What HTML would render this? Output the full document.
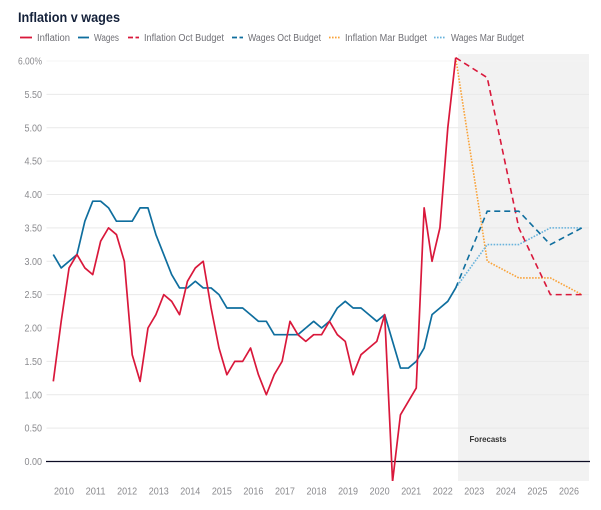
<!DOCTYPE html>
<html>
<head>
<meta charset="utf-8">
<title>Inflation v wages</title>
<style>
html,body{margin:0;padding:0;background:#fff;width:601px;height:510px;overflow:hidden}
svg{display:block;font-family:"Liberation Sans",sans-serif}
</style>
</head>
<body>
<svg id="chart" width="601" height="510" viewBox="0 0 601 510" xmlns="http://www.w3.org/2000/svg">
  <text x="18" y="22" font-size="14" font-weight="bold" fill="#14213a" textLength="102" lengthAdjust="spacingAndGlyphs">Inflation v wages</text>
  <g font-size="10" fill="#6f6f75">
    <g>
      <line x1="20" x2="32" y1="37.5" y2="37.5" stroke="#d9183b" stroke-width="1.8"/>
      <text x="37" y="41" textLength="33" lengthAdjust="spacingAndGlyphs">Inflation</text>
    </g>
    <g>
      <line x1="78" x2="89" y1="37.5" y2="37.5" stroke="#0f6e9e" stroke-width="1.8"/>
      <text x="94" y="41" textLength="25" lengthAdjust="spacingAndGlyphs">Wages</text>
    </g>
    <g>
      <line x1="128" x2="139" y1="37.5" y2="37.5" stroke="#d9183b" stroke-width="1.8" stroke-dasharray="5 2.5"/>
      <text x="144" y="41" textLength="80" lengthAdjust="spacingAndGlyphs">Inflation Oct Budget</text>
    </g>
    <g>
      <line x1="232" x2="243" y1="37.5" y2="37.5" stroke="#0f6e9e" stroke-width="1.8" stroke-dasharray="5 2.5"/>
      <text x="248" y="41" textLength="73" lengthAdjust="spacingAndGlyphs">Wages Oct Budget</text>
    </g>
    <g>
      <line x1="329" x2="340" y1="37.5" y2="37.5" stroke="#f9a33a" stroke-width="1.8" stroke-dasharray="1.6 1.4"/>
      <text x="345" y="41" textLength="82" lengthAdjust="spacingAndGlyphs">Inflation Mar Budget</text>
    </g>
    <g>
      <line x1="434" x2="446" y1="37.5" y2="37.5" stroke="#69b3dc" stroke-width="1.8" stroke-dasharray="1.6 1.4"/>
      <text x="451" y="41" textLength="73" lengthAdjust="spacingAndGlyphs">Wages Mar Budget</text>
    </g>
  </g>
  <defs>
    <clipPath id="plot-clip"><rect x="46" y="54" width="544" height="427"/></clipPath>
  </defs>
  <rect x="458" y="54" width="131" height="427" fill="#f2f2f2"/>
  <g id="grid"></g>
  <g id="ylabels" font-size="10" fill="#8a8a8e" text-anchor="end"></g>
  <g id="xlabels" font-size="10" fill="#8a8a8e" text-anchor="middle"></g>
  <line id="zero" stroke="#0c0c24" stroke-width="1.3"/>
  <g id="lines" clip-path="url(#plot-clip)"></g>
  <text x="469.5" y="442" font-size="8.5" font-weight="bold" fill="#333" textLength="37" lengthAdjust="spacingAndGlyphs">Forecasts</text>
</svg>
<script>
var yTicks = [0, 0.5, 1, 1.5, 2, 2.5, 3, 3.5, 4, 4.5, 5, 5.5, 6];
var yTickLabels = ["0.00", "0.50", "1.00", "1.50", "2.00", "2.50", "3.00", "3.50", "4.00", "4.50", "5.00", "5.50", "6.00%"];
var years = ["2010", "2011", "2012", "2013", "2014", "2015", "2016", "2017", "2018", "2019", "2020", "2021", "2022", "2023", "2024", "2025", "2026"];

var inflation = [1.2, 2.1, 2.9, 3.1, 2.9, 2.8, 3.3, 3.5, 3.4, 3.0, 1.6, 1.2, 2.0, 2.2, 2.5, 2.4, 2.2, 2.7, 2.9, 3.0, 2.3, 1.7, 1.3, 1.5, 1.5, 1.7, 1.3, 1.0, 1.3, 1.5, 2.1, 1.9, 1.8, 1.9, 1.9, 2.1, 1.9, 1.8, 1.3, 1.6, 1.7, 1.8, 2.2, -0.3, 0.7, 0.9, 1.1, 3.8, 3.0, 3.5, 5.0, 6.05];
var wages = [3.1, 2.9, 3.0, 3.1, 3.6, 3.9, 3.9, 3.8, 3.6, 3.6, 3.6, 3.8, 3.8, 3.4, 3.1, 2.8, 2.6, 2.6, 2.7, 2.6, 2.6, 2.5, 2.3, 2.3, 2.3, 2.2, 2.1, 2.1, 1.9, 1.9, 1.9, 1.9, 2.0, 2.1, 2.0, 2.1, 2.3, 2.4, 2.3, 2.3, 2.2, 2.1, 2.2, 1.8, 1.4, 1.4, 1.5, 1.7, 2.2, 2.3, 2.4, 2.6];
var inflationOct = [6.05, 5.75, 3.5, 2.5, 2.5];
var wagesOct = [2.6, 3.75, 3.75, 3.25, 3.5];
var inflationMar = [6.05, 3.0, 2.75, 2.75, 2.5];
var wagesMar = [2.6, 3.25, 3.25, 3.5, 3.5];

var NS = "http://www.w3.org/2000/svg";
function xScale(q) { return 53.3 + 7.89 * q; }
function yScale(v) { return 461.5 - 66.75 * v; }
function yearX(k) { return xScale(1.36 + 4 * k); }
function forecastX(k) { return xScale(inflation.length - 1 + 4 * k); }

function make(tag, parent, attrs) {
  var el = document.createElementNS(NS, tag);
  for (var k in attrs) el.setAttribute(k, attrs[k]);
  parent.appendChild(el);
  return el;
}

var grid = document.getElementById("grid");
var ylabels = document.getElementById("ylabels");
var xlabels = document.getElementById("xlabels");

yTicks.forEach(function (t, i) {
  if (t !== 0) {
    var g = make("line", grid, { x1: 46.5, x2: 589, y1: yScale(t), y2: yScale(t), stroke: t === 6 ? "#f4f4f4" : "#e9e9e9", "stroke-width": 1 });
    
    
  }
  var l = make("text", ylabels, { x: 42, y: yScale(t) + 3.5, textLength: yTickLabels[i].length > 4 ? 24 : 17.5, lengthAdjust: "spacingAndGlyphs" });
  
  
  l.textContent = yTickLabels[i];
});

years.forEach(function (y, k) {
  var l = make("text", xlabels, { x: yearX(k), y: 494.5, textLength: 20, lengthAdjust: "spacingAndGlyphs" });
  
  
  l.textContent = y;
});

var zero = document.getElementById("zero");
zero.setAttribute("x1", 46);
zero.setAttribute("x2", 590);
zero.setAttribute("y1", yScale(0));
zero.setAttribute("y2", yScale(0));

function toPath(values, xf) {
  return values.map(function (v, i) { return (i ? "L" : "M") + xf(i).toFixed(2) + " " + yScale(v).toFixed(2); }).join(" ");
}

var linesG = document.getElementById("lines");

var p1 = make("path", linesG, { d: toPath(inflationMar, forecastX), fill: "none", stroke: "#f9a33a", "stroke-width": 1.6, "stroke-dasharray": "1.6 1.4" });



var p2 = make("path", linesG, { d: toPath(wagesMar, forecastX), fill: "none", stroke: "#69b3dc", "stroke-width": 1.6, "stroke-dasharray": "1.6 1.4" });



var p3 = make("path", linesG, { d: toPath(inflationOct, forecastX), fill: "none", stroke: "#d9183b", "stroke-width": 1.6, "stroke-dasharray": "6 4" });



var p4 = make("path", linesG, { d: toPath(wagesOct, forecastX), fill: "none", stroke: "#0f6e9e", "stroke-width": 1.6, "stroke-dasharray": "6 4" });



var p5 = make("path", linesG, { d: toPath(wages, xScale), fill: "none", stroke: "#0f6e9e", "stroke-width": 1.7, "stroke-linejoin": "round" });



var p6 = make("path", linesG, { d: toPath(inflation, xScale), fill: "none", stroke: "#d9183b", "stroke-width": 1.7, "stroke-linejoin": "round" });


</script>
</body>
</html>
